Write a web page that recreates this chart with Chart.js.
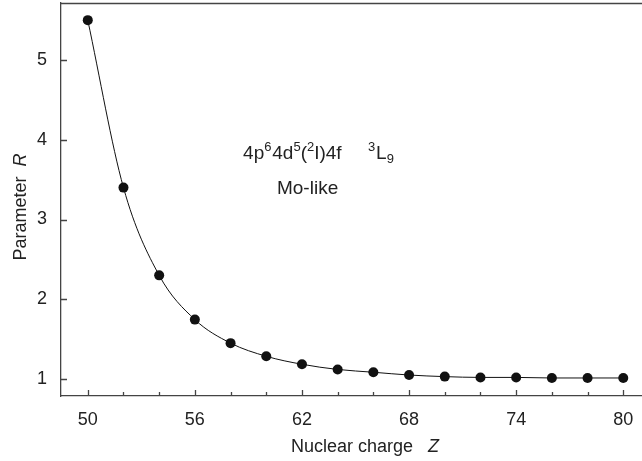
<!DOCTYPE html>
<html>
<head>
<meta charset="utf-8">
<script src="https://cdn.jsdelivr.net/npm/chart.js@4/dist/chart.umd.min.js"></script>
<style>
  html, body { margin: 0; padding: 0; background: #fff; }
  #wrap { width: 642px; height: 461px; }
</style>
</head>
<body>
<div id="wrap"><canvas id="chart"></canvas></div>
<script>
const charges = [50, 52, 54, 56, 58, 60, 62, 64, 66, 68, 70, 72, 74, 76, 78, 80];
const paramR  = [5.50, 3.40, 2.30, 1.745, 1.45, 1.285, 1.185, 1.12, 1.085, 1.05, 1.03, 1.02, 1.02, 1.013, 1.013, 1.013];
const xMajorTicks = [50, 56, 62, 68, 74, 80];
const xMinorTicks = [52, 54, 58, 60, 64, 66, 70, 72, 76, 78];
const yTicks = [1, 2, 3, 4, 5];

const FONT = '"Liberation Sans", Arial, Helvetica, sans-serif';
const AXIS = '#444';
const TEXT = '#222';

// draws mixed-style text runs starting at x, returns end x
function runs(ctx, parts, x, base) {
  parts.forEach(([t, size, dy, italic]) => {
    ctx.font = (italic ? 'italic ' : '') + size + 'px ' + FONT;
    ctx.fillText(t, x, base + dy);
    x += ctx.measureText(t).width;
  });
  return x;
}
function runsWidth(ctx, parts) {
  let w = 0;
  parts.forEach(([t, size, dy, italic]) => {
    ctx.font = (italic ? 'italic ' : '') + size + 'px ' + FONT;
    w += ctx.measureText(t).width;
  });
  return w;
}

// inward ticks + top frame line
const frame = {
  id: 'frame',
  afterDraw(chart) {
    const { ctx, chartArea: a, scales: { x, y } } = chart;
    ctx.save();
    ctx.strokeStyle = AXIS;
    ctx.lineWidth = 1.3;
    ctx.beginPath();
    ctx.moveTo(a.left, a.top + 0.5);
    ctx.lineTo(a.right, a.top + 0.5);
    xMajorTicks.forEach(v => {
      const px = Math.round(x.getPixelForValue(v)) + 0.5;
      ctx.moveTo(px, a.bottom); ctx.lineTo(px, a.bottom - 6);
    });
    xMinorTicks.forEach(v => {
      const px = Math.round(x.getPixelForValue(v)) + 0.5;
      ctx.moveTo(px, a.bottom); ctx.lineTo(px, a.bottom - 4);
    });
    yTicks.forEach(v => {
      const py = Math.round(y.getPixelForValue(v)) + 0.5;
      ctx.moveTo(a.left, py); ctx.lineTo(a.left + 6, py);
    });
    ctx.stroke();
    ctx.restore();
  }
};

// axis titles and term label (italic symbols, super/subscripts)
const labels = {
  id: 'labels',
  afterDraw(chart) {
    const { ctx, scales: { x, y } } = chart;
    ctx.save();
    ctx.fillStyle = TEXT;
    ctx.textBaseline = 'alphabetic';

    const xt = [['Nuclear charge   ', 18, 0], ['Z', 18, 0, true]];
    runs(ctx, xt, 365 - runsWidth(ctx, xt) / 2, 452);

    const yt = [['Parameter  ', 18, 0], ['R', 18, 0, true]];
    ctx.translate(25.5, 207);
    ctx.rotate(-Math.PI / 2);
    runs(ctx, yt, -runsWidth(ctx, yt) / 2, 0);
    ctx.setTransform(1, 0, 0, 1, 0, 0);

    const term = [
      ['4p', 19, 0], ['6', 13, -8], [' ', 3, 0], ['4d', 19, 0], ['5', 13, -8], ['(', 19, 0], ['2', 13, -8],
      ['I)4f', 19, 0], ['     ', 19, 0], ['3', 13, -8], [' ', 3, 0], ['L', 19, 0], ['9', 13, 4]
    ];
    runs(ctx, term, x.getPixelForValue(58.7), y.getPixelForValue(3.76));
    ctx.font = '19px ' + FONT;
    ctx.fillText('Mo-like', x.getPixelForValue(60.6), y.getPixelForValue(3.32));
    ctx.restore();
  }
};

function noPad(s) {
  s.paddingTop = 0; s.paddingBottom = 0; s.paddingLeft = 0; s.paddingRight = 0;
}

new Chart(document.getElementById('chart'), {
  type: 'line',
  data: {
    datasets: [{
      data: charges.map((z, i) => ({ x: z, y: paramR[i] })),
      borderColor: '#111',
      borderWidth: 1,
      backgroundColor: '#111',
      pointBackgroundColor: '#111',
      pointBorderWidth: 0,
      pointRadius: 5,
      cubicInterpolationMode: 'monotone',
      fill: false
    }]
  },
  options: {
    responsive: true,
    maintainAspectRatio: false,
    animation: false,
    layout: { autoPadding: false, padding: { top: 3, right: 0, left: 0, bottom: 0 } },
    plugins: { legend: { display: false }, tooltip: { enabled: false } },
    scales: {
      x: {
        type: 'linear',
        min: 48.5,
        max: 81.05,
        afterBuildTicks: s => { s.ticks = xMajorTicks.map(v => ({ value: v })); },
        afterFit: s => { s.height = 65; noPad(s); },
        grid: { display: false, drawTicks: false },
        border: { display: true, color: AXIS, width: 1.3 },
        ticks: { color: TEXT, padding: 13, font: { family: FONT, size: 18 }, maxRotation: 0 }
      },
      y: {
        min: 0.787,
        max: 5.715,
        afterBuildTicks: s => { s.ticks = yTicks.map(v => ({ value: v })); },
        afterFit: s => { s.width = 61; noPad(s); },
        grid: { display: false, drawTicks: false },
        border: { display: true, color: AXIS, width: 1.3 },
        ticks: { color: TEXT, padding: 14, font: { family: FONT, size: 18 } }
      }
    }
  },
  plugins: [frame, labels]
});
</script>
</body>
</html>
